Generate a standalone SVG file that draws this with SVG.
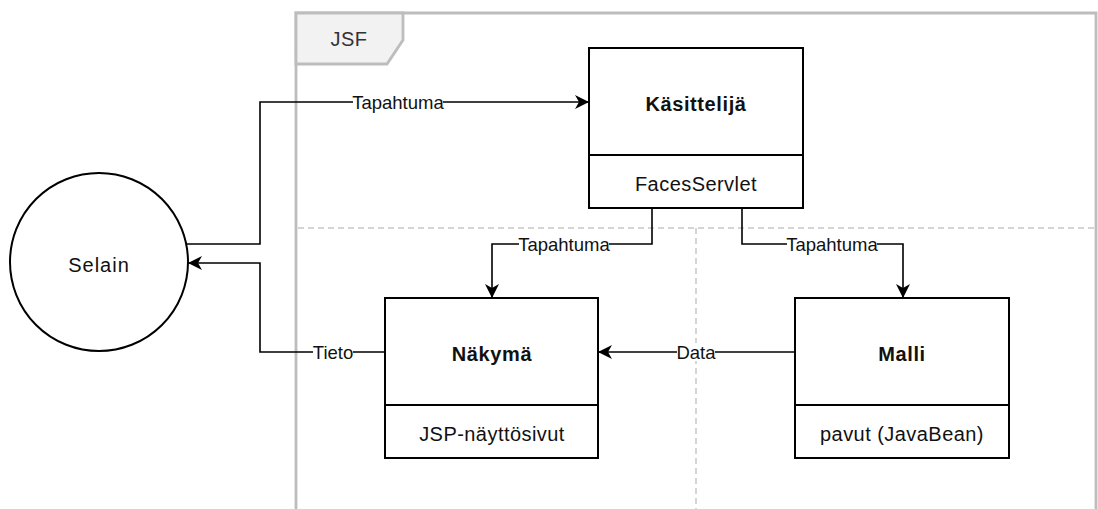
<svg xmlns="http://www.w3.org/2000/svg" width="1098" height="509" viewBox="0 0 1098 509">
  <defs>
    <marker id="arrow" markerUnits="userSpaceOnUse" markerWidth="16" markerHeight="16" viewBox="0 0 16 16" refX="14" refY="7" orient="auto">
      <path d="M0,0 L14,7 L0,14 L4,7 Z" fill="#000"/>
    </marker>
    <style>
      .frame { fill: none; stroke: #bdbdbd; stroke-width: 2.8; }
      .tab { fill: #f2f2f2; stroke: #bdbdbd; stroke-width: 2.8; }
      .lane { fill: none; stroke: #c8c8c8; stroke-width: 1.5; stroke-dasharray: 6 4; }
      .shape { fill: #fff; stroke: #000; stroke-width: 2; }
      .edge { fill: none; stroke: #000; stroke-width: 1.6; marker-end: url(#arrow); }
      .divider { fill: none; stroke: #000; stroke-width: 2; }
      .lbl-bg { fill: #fff; }
      text { font-family: "Liberation Sans", Arial, sans-serif; font-size: 18.5px; fill: #111; text-anchor: middle; }
      .title { font-size: 20px; font-weight: bold; letter-spacing: 0.6px; }
      .body { font-size: 20px; letter-spacing: 0.45px; }
      .circle-text { font-size: 20px; letter-spacing: 1px; }
      .frame-title { font-size: 20px; fill: #333; letter-spacing: 0.5px; }
    </style>
  </defs>

  <!-- JSF frame with name tab -->
  <g id="jsf-frame">
    <path class="frame" d="M296,512 V13 H1096 V512"/>
    <path class="tab" d="M296,13 H403 V40 L387,64 H296 Z"/>
    <text class="frame-title" x="349" y="46">JSF</text>
  </g>

  <!-- dashed partitions -->
  <g id="partitions">
    <line class="lane" x1="298" y1="228" x2="1094" y2="228"/>
    <line class="lane" x1="696" y1="228" x2="696" y2="509"/>
  </g>

  <!-- connectors -->
  <g id="connectors">
    <path class="edge" d="M186,244 H260 V102 H589"/>
    <path class="edge" d="M385,352 H260 V263 H188"/>
    <path class="edge" d="M652,208 V244 H492 V298"/>
    <path class="edge" d="M742,208 V244 H903 V298"/>
    <path class="edge" d="M795,352 H598"/>

    <rect class="lbl-bg" x="353" y="93" width="90" height="18"/>
    <text x="398" y="109">Tapahtuma</text>
    <rect class="lbl-bg" x="313" y="343" width="40" height="18"/>
    <text x="333" y="359">Tieto</text>
    <rect class="lbl-bg" x="519" y="235" width="90" height="18"/>
    <text x="564" y="251">Tapahtuma</text>
    <rect class="lbl-bg" x="787" y="235" width="90" height="18"/>
    <text x="832" y="251">Tapahtuma</text>
    <rect class="lbl-bg" x="677" y="343" width="38" height="18"/>
    <text x="696" y="359">Data</text>
  </g>

  <!-- browser -->
  <g id="selain">
    <circle class="shape" cx="99" cy="262" r="89"/>
    <text class="circle-text" x="99" y="272">Selain</text>
  </g>

  <!-- controller -->
  <g id="kasittelija">
    <rect class="shape" x="589" y="48" width="214" height="160"/>
    <line class="divider" x1="589" y1="155" x2="803" y2="155"/>
    <text class="title" x="696" y="111">Käsittelijä</text>
    <text class="body" x="696" y="191">FacesServlet</text>
  </g>

  <!-- view -->
  <g id="nakyma">
    <rect class="shape" x="385" y="298" width="213" height="160"/>
    <line class="divider" x1="385" y1="405" x2="598" y2="405"/>
    <text class="title" x="492" y="361">Näkymä</text>
    <text class="body" x="492" y="441">JSP-näyttösivut</text>
  </g>

  <!-- model -->
  <g id="malli">
    <rect class="shape" x="795" y="298" width="214" height="160"/>
    <line class="divider" x1="795" y1="405" x2="1009" y2="405"/>
    <text class="title" x="902" y="361">Malli</text>
    <text class="body" x="902" y="441">pavut (JavaBean)</text>
  </g>
</svg>
